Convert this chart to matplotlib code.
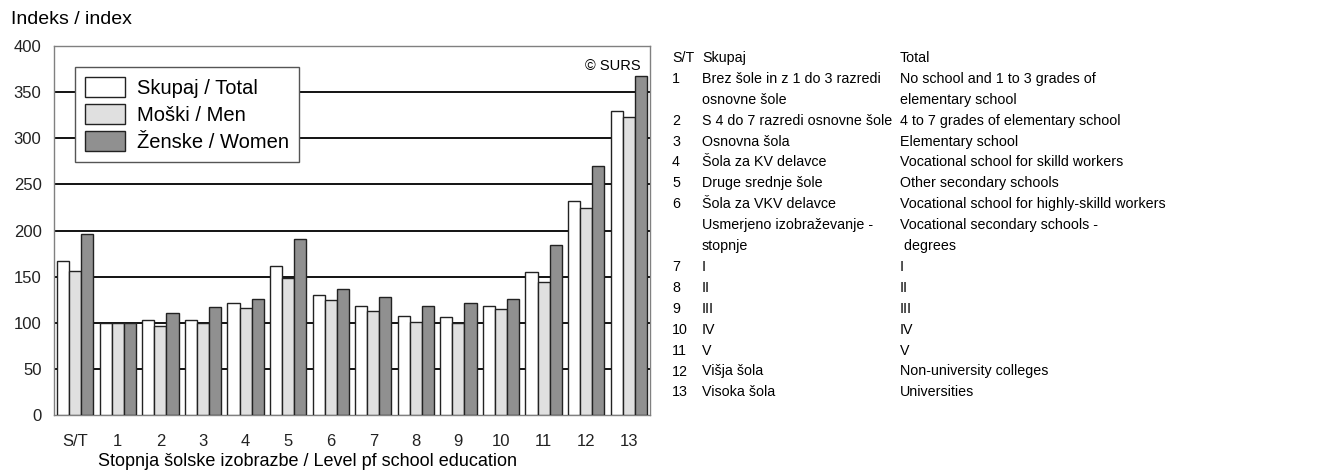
import matplotlib.pyplot as plt
import numpy as np

categories = ["S/T", "1", "2", "3", "4", "5", "6", "7", "8", "9", "10", "11", "12", "13"]
total = [167, 100, 102.5, 102.5, 121, 162, 130, 118, 107, 106, 118, 155, 232, 330]
men = [156, 100, 97, 100, 116, 149, 125, 113, 100.5, 100, 115, 144, 224, 323]
women = [196, 100, 111, 117, 126, 191, 137, 128, 118, 121, 126, 184, 270, 367]

series_labels = ["Skupaj / Total", "Moški / Men", "Ženske / Women"]
series_colors = ["#ffffff", "#e0e0e0", "#909090"]

key_codes = ["S/T", "1", "", "2", "3", "4", "5", "6", "", "", "7", "8", "9", "10", "11", "12", "13"]
key_sl = ["Skupaj", "Brez šole in z 1 do 3 razredi", "osnovne šole",
          "S 4 do 7 razredi osnovne šole", "Osnovna šola", "Šola za KV delavce",
          "Druge srednje šole", "Šola za VKV delavce", "Usmerjeno izobraževanje -",
          "stopnje", "I", "II", "III", "IV", "V", "Višja šola", "Visoka šola"]
key_en = ["Total", "No school and 1 to 3 grades of", "elementary school",
          "4 to 7 grades of elementary school", "Elementary school",
          "Vocational school for skilld workers", "Other secondary schools",
          "Vocational school for highly-skilld workers", "Vocational secondary schools -",
          " degrees", "I", "II", "III", "IV", "V", "Non-university colleges", "Universities"]

plt.rcParams['font.family'] = ['Liberation Sans', 'DejaVu Sans']

W, H = 1344, 475
fig = plt.figure(figsize=(W / 100, H / 100), dpi=100)
ax = fig.add_axes([54 / W, 1 - 415 / H, 596 / W, (415 - 46) / H])

x = np.arange(len(categories))
bw = 0.285
for i, (vals, col, lab) in enumerate(zip([total, men, women], series_colors, series_labels)):
    ax.bar(x + (i - 1) * bw, vals, bw, color=col, edgecolor="#222222", linewidth=1.0,
           label=lab, zorder=3)

ax.set_xlim(-0.5, len(categories) - 0.5)
ax.set_ylim(0, 400)
ax.set_yticks(range(0, 401, 50))
ax.set_xticks(x)
ax.set_xticklabels(categories)
ax.tick_params(axis="both", length=0, labelsize=12, colors="#222222")
ax.tick_params(axis="x", pad=14)
ax.tick_params(axis="y", pad=9)
for y in range(50, 400, 50):
    ax.axhline(y, color="black", linewidth=1.3, zorder=1)
for s in ax.spines.values():
    s.set_color("#808080")
    s.set_linewidth(1.0)

ax.text(0.985, 0.965, "© SURS", transform=ax.transAxes, ha="right", va="top", fontsize=10.5)

leg = ax.legend(loc="upper left", bbox_to_anchor=(0.035, 0.943), fontsize=14.5, frameon=True,
                fancybox=False, edgecolor="#555555", framealpha=1, handlelength=2.0,
                handleheight=1.15, labelspacing=0.3, borderpad=0.5, handletextpad=0.6,
                borderaxespad=0)
leg.get_frame().set_linewidth(1.0)
leg.set_zorder(5)

fig.text(11 / W, 1 - 20 / H, "Indeks / index", ha="left", va="center", fontsize=14)
fig.text(308 / W, 1 - 462 / H, "Stopnja šolske izobrazbe / Level pf school education",
         ha="center", va="center", fontsize=13)

y0 = 58
dy = 20.9
for k, (c, sl, en) in enumerate(zip(key_codes, key_sl, key_en)):
    yy = 1 - (y0 + k * dy) / H
    fig.text(672 / W, yy, c, ha="left", va="center", fontsize=10.3)
    fig.text(702 / W, yy, sl, ha="left", va="center", fontsize=10.3)
    fig.text(900 / W, yy, en, ha="left", va="center", fontsize=10.3)

fig.savefig("out.png", dpi=100)
